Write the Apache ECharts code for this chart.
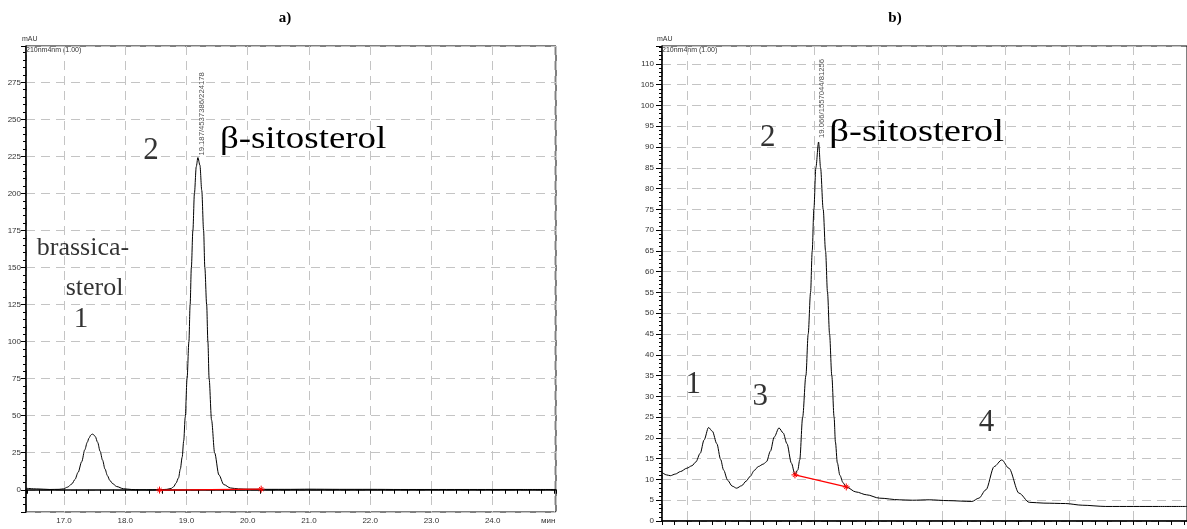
<!DOCTYPE html>
<html><head><meta charset="utf-8">
<script src="https://cdn.jsdelivr.net/npm/echarts@6/dist/echarts.min.js"></script>
<style>html,body{margin:0;padding:0;background:#fff}#c{width:1187px;height:529px}</style>
</head><body><div id="c"></div>
<script>
// ---------- Chromatogram a) : [time (min), signal (mAU)] ----------
const chromA = [
  [16.38,1.0],[16.55,0.6],[16.77,0.2],[16.92,0.3],[16.99,0.6],[17.06,1.8],[17.13,4],[17.18,7],
  [17.23,11.7],[17.29,19],[17.34,27],[17.38,32],[17.41,35],[17.44,37],[17.46,37.6],[17.48,37.3],
  [17.51,36],[17.55,32],[17.59,26],[17.63,20],[17.67,14],[17.71,9.5],[17.75,6.2],[17.80,4],
  [17.86,2.2],[17.97,0.7],[18.1,0.2],[18.24,0],[18.45,0],[18.6,0.1],[18.68,0.3],[18.75,0.9],
  [18.79,2],[18.83,4.5],[18.87,8],[18.90,14],[18.93,22],[18.955,33],[18.98,49],[19.01,75],
  [19.04,100],[19.06,125],[19.08,150],[19.105,175],[19.13,200],[19.16,218],[19.187,224.2],[19.22,219],
  [19.25,202],[19.28,175],[19.30,150],[19.33,125],[19.35,100],[19.37,75],[19.41,47],[19.46,25],
  [19.53,10],[19.61,3.5],[19.72,1.2],[19.85,0.6],[20.0,0.4],[20.3,0.3],[20.7,0.3],[21.0,0.4],
  [21.5,0.3],[22.0,0.3],[22.5,0.2],[23.0,0.2],[23.5,0.2],[24.0,0.2],[24.5,0.2],[25.03,0.2]
];
const baselineA = [[18.56,-0.2],[20.22,0.4]];
const peakA = [19.187, 224.178];
const peakLabelA = '19.187/4537386/224178';

// ---------- Chromatogram b) ----------
const chromB = [
  [16.61,11.7],[16.68,11.1],[16.74,10.9],[16.82,11.3],[16.9,11.9],[17.0,12.7],[17.08,13.3],[17.14,14.2],
  [17.21,16.3],[17.27,19.5],[17.34,22.5],[17.40,21.6],[17.47,18.6],[17.53,14.8],[17.575,12.3],[17.64,9.8],
  [17.71,8.4],[17.78,7.9],[17.86,8.5],[17.93,9.6],[17.99,10.7],[18.06,12.2],[18.12,13.1],[18.2,13.7],
  [18.25,14.3],[18.31,16.8],[18.37,20.2],[18.445,22.4],[18.51,21.2],[18.57,18.6],[18.64,13.9],[18.695,11.2],
  [18.74,12.3],[18.77,14.7],[18.816,25],[18.867,35],[18.903,45],[18.94,55],[18.966,65],[18.992,75],
  [19.023,85],[19.066,91.2],[19.097,85],[19.138,75],[19.175,65],[19.206,55],[19.238,45],[19.273,35],
  [19.309,25],[19.33,19],[19.36,14],[19.40,11],[19.45,9.2],[19.50,8.2],[19.65,7.0],[19.82,6.3],
  [20.02,5.5],[20.33,5.1],[20.54,5.0],[20.80,5.1],[21.1,4.9],[21.47,4.7],[21.58,5.5],[21.69,7.5],
  [21.82,13.1],[21.94,14.7],[22.05,12.7],[22.21,6.7],[22.37,4.5],[22.6,4.3],[22.94,4.2],[23.2,3.8],
  [23.57,3.5],[24.0,3.5],[24.4,3.5],[24.85,3.5]
];
const baselineB = [[18.695,11.1],[19.50,8.2]];
const peakB = [19.066, 91.2];
const peakLabelB = '19.066/1557044/81256';

// ---------- Tick labels ----------
const xTicksA = [17,18,19,20,21,22,23,24];
const yTicksA = [0,25,50,75,100,125,150,175,200,225,250,275];
const yTicksB = [0,5,10,15,20,25,30,35,40,45,50,55,60,65,70,75,80,85,90,95,100,105,110];

// ---------- Annotations [text, time, value] ----------
const notesA1 = [['2',18.42,229]];
const notesA2 = [['brassica-',17.31,163],['sterol',17.5,136]];
const notesA3 = [['1',17.28,115]];
const nameA = ['β-sitosterol',19.547,236];   // left edge, vertical centre
const notesB1 = [['2',18.27,92.1],['1',17.10,32.8],['3',18.15,29.9],['4',21.70,23.6]];
const nameB = ['β-sitosterol',19.234,93.3];

const chart = echarts.init(document.getElementById('c'));
const SANS = 'Liberation Sans, Arial, sans-serif';
const SERIF = 'Liberation Serif, Times New Roman, serif';
const gridLine = {show:true, lineStyle:{color:'#c4c4c4', width:1, type:[9,6]}};
const lblStyle = {fontSize:8, color:'#333', fontFamily:SANS};

function noteSeries(list, xi, size, align){
  return {
    type:'scatter', xAxisIndex:xi, yAxisIndex:xi, symbolSize:0, silent:true, z:5,
    data: list.map(n=>({name:n[0], value:[n[1],n[2]]})),
    label:{show:true, position:'inside', formatter:'{b}', align:align, verticalAlign:'middle',
      fontFamily:SERIF, fontSize:size, color:'#000', textBorderWidth:0, textShadowBlur:0}
  };
}
const star = 'path://M5,0L5,10M0,5L10,5M2,2L8,8M8,2L2,8';

const staticGraphic = [
  {type:'text', left:22, top:36, style:{text:'mAU', fontSize:7, fill:'#333', fontFamily:SANS}},
  {type:'text', left:26, top:47, style:{text:'210nm4nm (1.00)', fontSize:7, fill:'#333', fontFamily:SANS}},
  {type:'text', left:657, top:36, style:{text:'mAU', fontSize:7, fill:'#333', fontFamily:SANS}},
  {type:'text', left:662, top:47, style:{text:'210nm4nm (1.00)', fontSize:7, fill:'#333', fontFamily:SANS}},
  {type:'text', left:541, top:517, style:{text:'мин', fontSize:8, fill:'#333', fontFamily:SANS}}
];

chart.setOption({
  animation:false,
  backgroundColor:'#fff',
  title:[
    {text:'a)', left:280, top:6, textAlign:'center', textStyle:{fontFamily:SERIF, fontWeight:'bold', fontSize:15, color:'#000'}},
    {text:'b)', left:890, top:6, textAlign:'center', textStyle:{fontFamily:SERIF, fontWeight:'bold', fontSize:15, color:'#000'}}
  ],
  graphic:staticGraphic,
  grid:[
    {left:26, top:46, right:631, bottom:17, show:true, borderColor:'#000', borderWidth:1},
    {left:662, top:46, right:-2, bottom:8, show:true, borderColor:'#000', borderWidth:1}
  ],
  xAxis:[
    {type:'value', gridIndex:0, min:16.38, max:25.034, minInterval:1, maxInterval:1,
     axisLine:{lineStyle:{color:'#000', width:1.5}},
     axisTick:{show:true, length:4, lineStyle:{color:'#000'}},
     minorTick:{show:true, splitNumber:5, length:4, lineStyle:{color:'#000'}},
     axisLabel:Object.assign({customValues:xTicksA, margin:5, formatter:v=>v.toFixed(1)}, lblStyle),
     splitLine:gridLine},
    {type:'value', gridIndex:1, min:16.61, max:24.844, minInterval:1, maxInterval:1,
     axisLine:{lineStyle:{color:'#000', width:1.5}},
     axisTick:{show:true, length:4, lineStyle:{color:'#000'}},
     minorTick:{show:true, splitNumber:5, length:4, lineStyle:{color:'#000'}},
     axisLabel:{show:false},
     splitLine:gridLine}
  ],
  yAxis:[
    {type:'value', gridIndex:0, min:-15, max:299.5, minInterval:25, maxInterval:25,
     axisLine:{show:true, lineStyle:{color:'#000', width:1.5}},
     axisTick:{show:true, length:5, lineStyle:{color:'#000'}},
     minorTick:{show:true, splitNumber:5, length:3, lineStyle:{color:'#000'}},
     axisLabel:Object.assign({customValues:yTicksA, margin:5}, lblStyle),
     splitLine:gridLine},
    {type:'value', gridIndex:1, min:0, max:114.3, minInterval:5, maxInterval:5,
     axisLine:{show:true, lineStyle:{color:'#000', width:1.5}},
     axisTick:{show:true, length:6, lineStyle:{color:'#000'}},
     minorTick:{show:true, splitNumber:5, length:3, lineStyle:{color:'#000'}},
     axisLabel:Object.assign({customValues:yTicksB, margin:8}, lblStyle),
     splitLine:gridLine}
  ],
  series:[
    {type:'line', xAxisIndex:0, yAxisIndex:0, data:chromA, showSymbol:false, smooth:0.3, smoothMonotone:'x',
     lineStyle:{color:'#000', width:1}, z:3},
    {type:'line', xAxisIndex:0, yAxisIndex:0, data:baselineA, symbol:star, symbolSize:7,
     itemStyle:{color:'#ff0000', borderColor:'#ff0000', borderWidth:1}, lineStyle:{color:'#ff0000', width:1.2}, z:4},
    {type:'scatter', xAxisIndex:0, yAxisIndex:0, data:[peakA], symbolSize:0, silent:true,
     label:{show:true, formatter:peakLabelA, rotate:90, position:'right', distance:3, offset:[2,1],
       fontSize:7.7, color:'#222', fontFamily:SANS, textBorderWidth:0}},
    noteSeries(notesA1, 0, 31, 'center'),
    noteSeries(notesA2, 0, 26, 'center'),
    noteSeries(notesA3, 0, 29, 'center'),

    {type:'line', xAxisIndex:1, yAxisIndex:1, data:chromB, showSymbol:false, smooth:0.3, smoothMonotone:'x',
     lineStyle:{color:'#000', width:1}, z:3},
    {type:'line', xAxisIndex:1, yAxisIndex:1, data:baselineB, symbol:star, symbolSize:7,
     itemStyle:{color:'#ff0000', borderColor:'#ff0000', borderWidth:1}, lineStyle:{color:'#ff0000', width:1.2}, z:4},
    {type:'scatter', xAxisIndex:1, yAxisIndex:1, data:[peakB], symbolSize:0, silent:true,
     label:{show:true, formatter:peakLabelB, rotate:90, position:'right', distance:3, offset:[4,0],
       fontSize:7.7, color:'#222', fontFamily:SANS, textBorderWidth:0}},
    noteSeries(notesB1, 1, 31, 'center')
  ]
});

// compound names: slightly stretched serif text anchored through the axes' scales
function stretchedName(n, gi, sx){
  const p = chart.convertToPixel({gridIndex:gi}, [n[1], n[2]]);
  return {type:'text', x:p[0], y:p[1], scaleX:sx, z:10,
    style:{text:n[0], fontSize:31, fontFamily:SERIF, fill:'#000', align:'left', verticalAlign:'middle'}};
}
chart.setOption({graphic: staticGraphic.concat([stretchedName(nameA,0,1.19), stretchedName(nameB,1,1.25)])});
</script></body></html>
